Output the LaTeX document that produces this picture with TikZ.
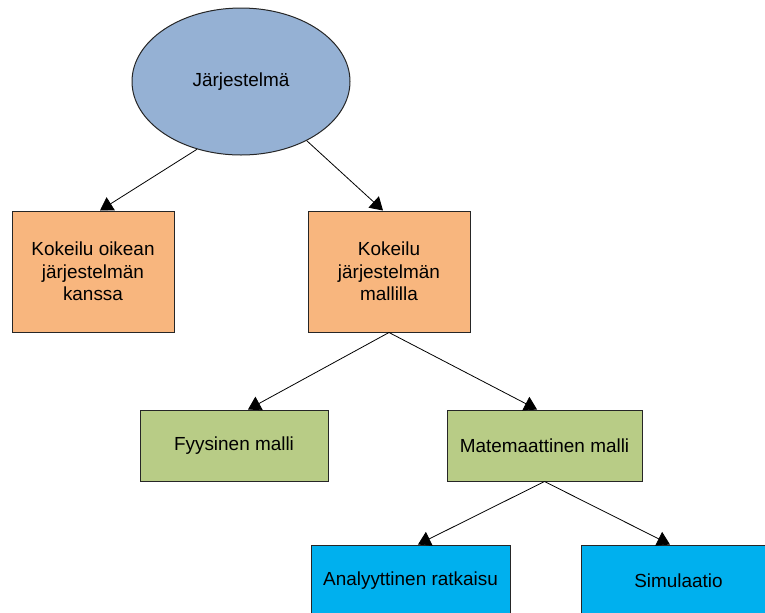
\documentclass[tikz,border=0pt]{standalone}
\usepackage{fontspec}
\setmainfont{Liberation Sans}
\usetikzlibrary{shapes.geometric,arrows.meta}

\definecolor{jarjblue}{HTML}{95B1D4}
\definecolor{kokorange}{HTML}{F8B67E}
\definecolor{malligreen}{HTML}{B8CC86}
\definecolor{ratkcyan}{HTML}{00B0EE}

\begin{document}
\begin{tikzpicture}[x=0.75pt, y=-0.75pt,
    every node/.style={font=\fontsize{14.2}{16.9}\selectfont, align=center},
    box/.style={draw=black!85, line width=0.75pt, rectangle, inner sep=0pt},
    arr/.style={-{Triangle[width=11.5pt,length=9.5pt]}, line width=0.6pt}]
      \useasboundingbox (0,0) rectangle (765,612);
      \clip (0,0) rectangle (765,612);

      % ylin taso
      \node[ellipse, draw=black!85, line width=0.75pt, fill=jarjblue,
            minimum width=163.5pt, minimum height=110.25pt, inner sep=0pt] (sys) at (241,81.5) {Järjestelmä};

      \node[box, fill=kokorange, minimum width=121.5pt, minimum height=90.75pt] (oikea) at (93,271.5) {Kokeilu oikean\\järjestelmän\\kanssa};
      \node[box, fill=kokorange, minimum width=121.5pt, minimum height=90.75pt] (malli) at (389,271.5) {Kokeilu\\järjestelmän\\mallilla};

      \node[box, fill=malligreen, minimum width=141pt, minimum height=53.25pt] (fyys) at (234,445.5) {Fyysinen malli};
      \node[box, fill=malligreen, minimum width=146.25pt, minimum height=53.25pt] (mate) at (544.5,445.5) {Matemaattinen malli};

      \node[box, fill=ratkcyan, minimum width=149.25pt, minimum height=53.25pt] (anal) at (410.5,580.5) {Analyyttinen ratkaisu};
      \node[box, fill=ratkcyan, minimum width=146.25pt, minimum height=53.25pt] (simu) at (678.5,580.5) {Simulaatio};

      % nuolet
      \draw[arr] (sys.237) -- ([xshift=5.25pt]oikea.north);
      \draw[arr] (sys.318) -- ([xshift=-4.5pt]malli.north);
      \draw[arr] (malli.south) -- ([xshift=10.5pt]fyys.north);
      \draw[arr] (malli.south) -- ([xshift=-5.6pt]mate.north);
      \draw[arr] (mate.south) -- ([xshift=5.6pt]anal.north);
      \draw[arr] (mate.south) -- ([xshift=-6.4pt]simu.north);
    \end{tikzpicture}
\end{document}
